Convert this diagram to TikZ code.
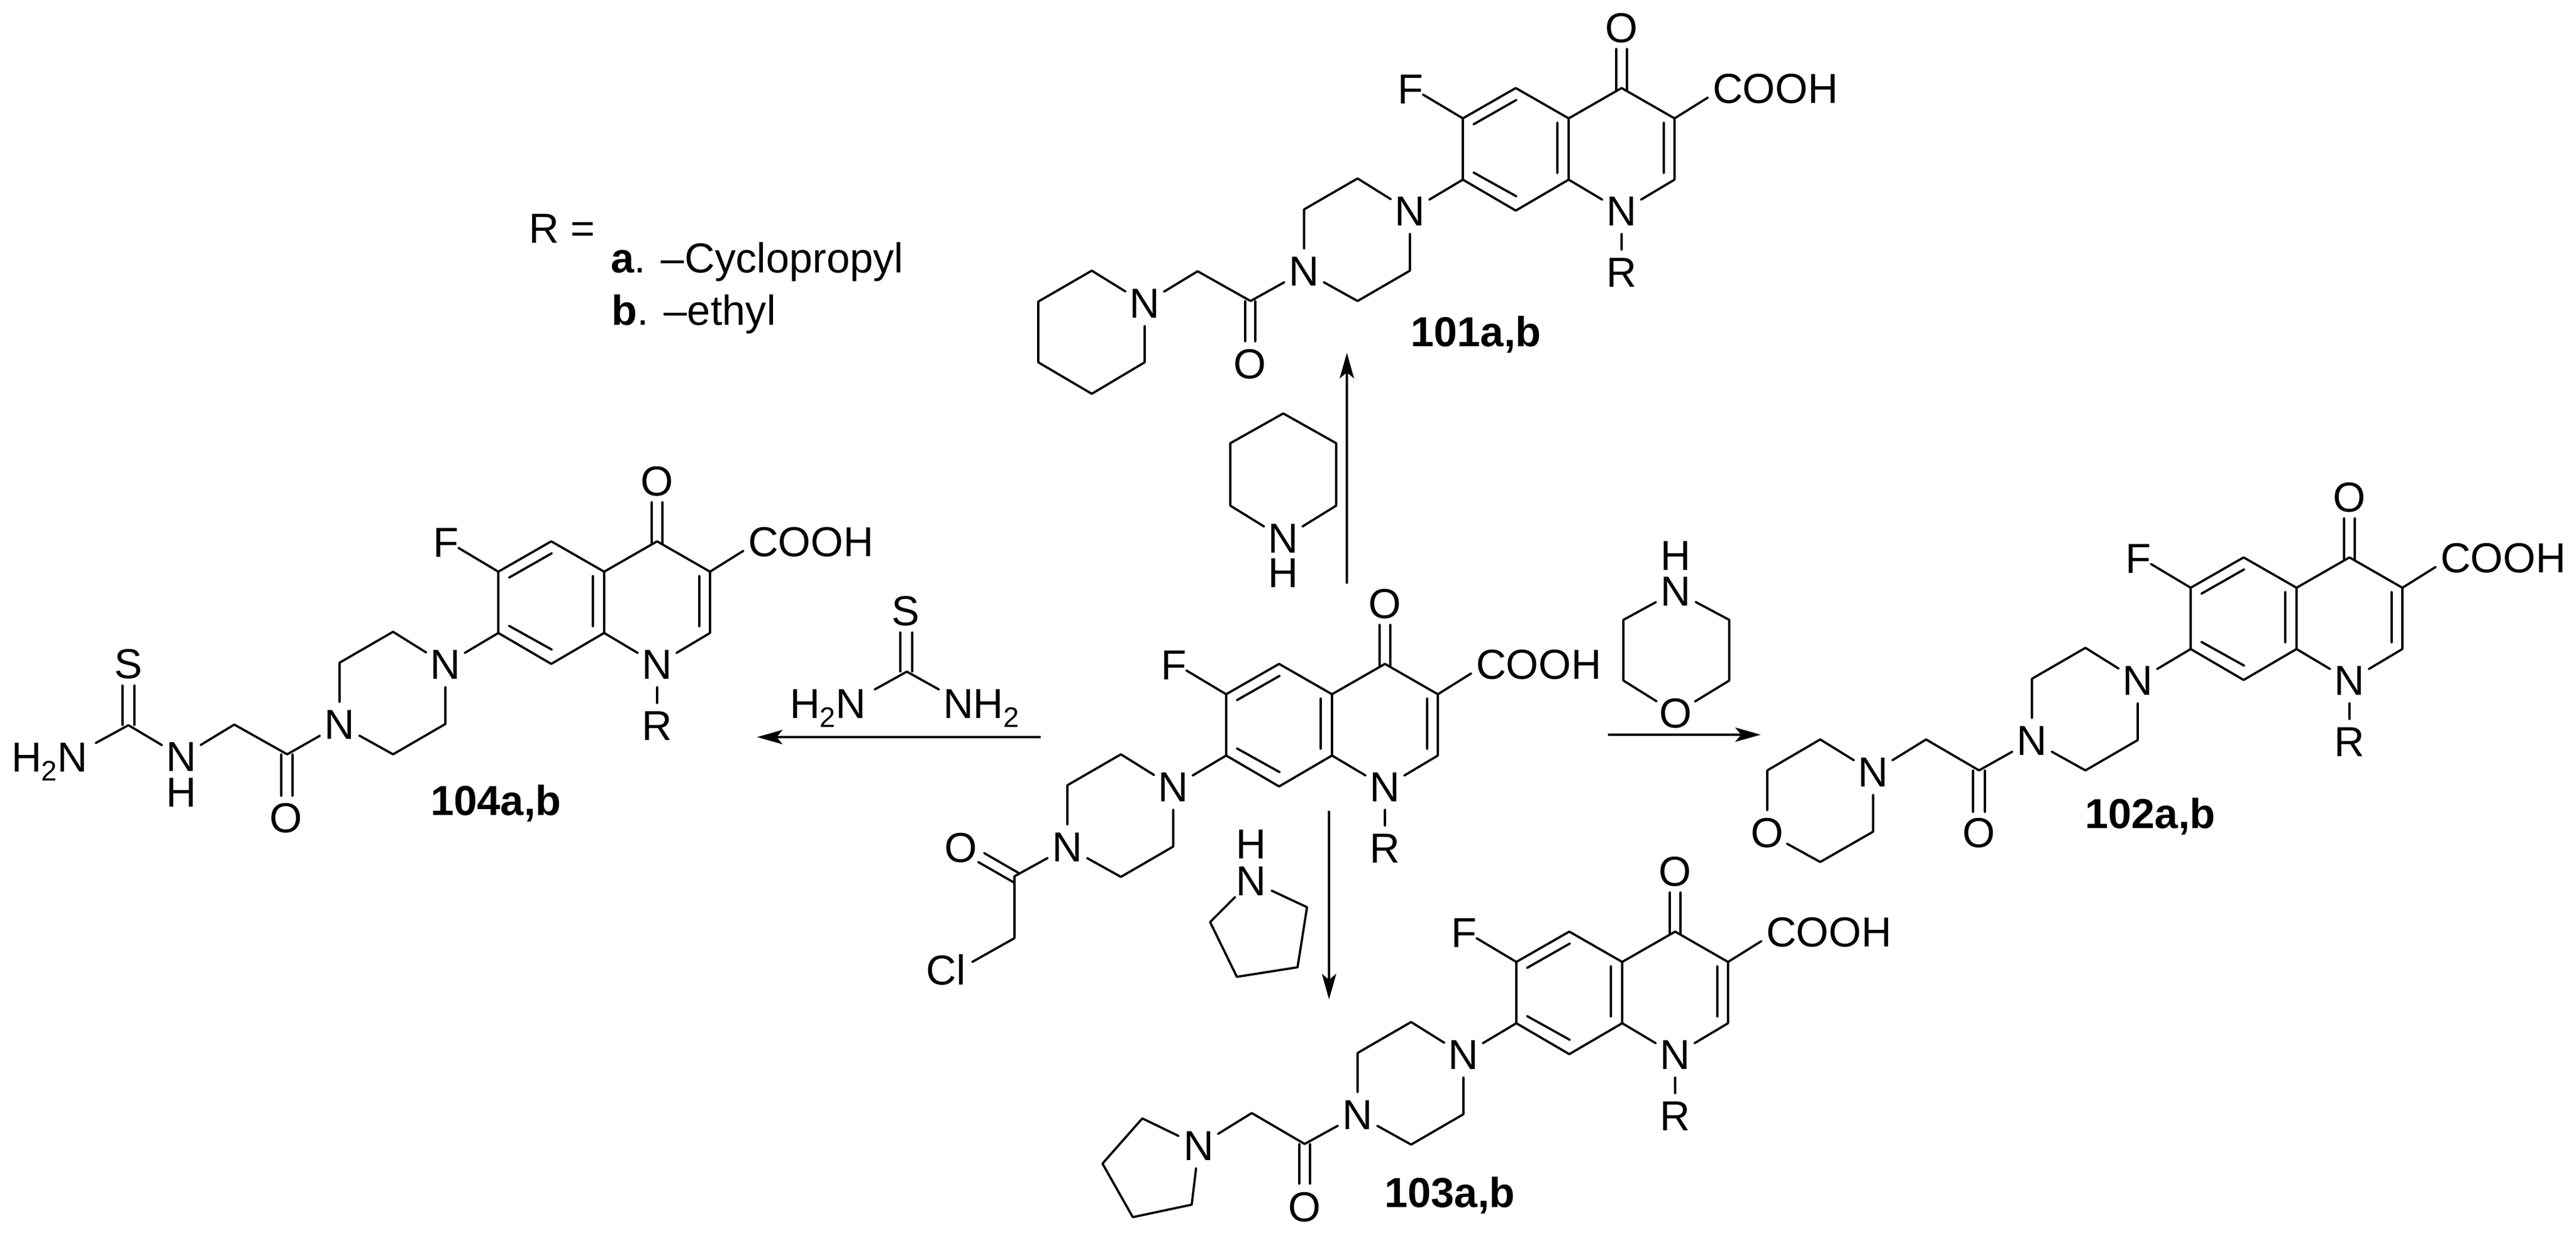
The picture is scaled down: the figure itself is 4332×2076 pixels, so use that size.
\documentclass[tikz,border=0pt]{standalone}
\usepackage{fontspec}
\setmainfont{Liberation Sans}
\usetikzlibrary{arrows.meta}
\newcommand{\subtwo}{\raisebox{-3pt}{\fontsize{9.5pt}{10pt}\selectfont 2}}
\tikzset{
  bond/.style={line width=0.75pt,line cap=round,line join=round},
  rxn/.style={line width=0.75pt,-{Stealth[length=8.6pt,width=4.8pt,inset=2pt]}},
  atom/.style={circle,inner sep=0pt,outer sep=0pt,minimum size=15.2pt,font=\fontsize{14.1pt}{16pt}\selectfont},
  lbl/.style={inner sep=0pt,outer sep=0pt,anchor=base west,font=\fontsize{14.1pt}{16pt}\selectfont},
  cmpd/.style={inner sep=0pt,outer sep=0pt,anchor=base,font=\fontsize{14.1pt}{16pt}\selectfont\bfseries}
}
% quinolone core with piperazine: prefix, x, y
\newcommand{\quincore}[3]{%
\begin{scope}[shift={(#2,#3)}]
  \coordinate (#1c4) at (0,0);
  \coordinate (#1c3) at (89,51);
  \coordinate (#1c2) at (89,154);
  \coordinate (#1c8a) at (-89,154);
  \coordinate (#1c4a) at (-89,51);
  \coordinate (#1c5) at (-178,0);
  \coordinate (#1c6) at (-267,51);
  \coordinate (#1c7) at (-267,154);
  \coordinate (#1c8) at (-178,206);
  \node[atom] (#1n1) at (0,207) {N};
  \node[atom] (#1r) at (0,310) {R};
  \node[atom] (#1o) at (0,-101) {O};
  \node[atom] (#1f) at (-355,2) {F};
  \node[lbl,anchor=west] (#1cooh) at (153,1) {COOH};
  \coordinate (#1coohb) at (145,16);
  \coordinate (#1fb) at (-334,11);
  \coordinate (#1oa) at (-9,-66);
  \coordinate (#1ob) at (9,-66);
  \coordinate (#1oc) at (-9,4);
  \coordinate (#1od) at (9,4);
  \coordinate (#1ia) at (71,58);
  \coordinate (#1ib) at (71,143);
  \coordinate (#1ic) at (-108,58);
  \coordinate (#1id) at (-108,143);
  \coordinate (#1ie) at (-249,61);
  \coordinate (#1if) at (-177,20);
  \coordinate (#1ig) at (-249,142);
  \coordinate (#1ih) at (-177,182);
  \node[atom] (#1pn) at (-356,207) {N};
  \coordinate (#1p1) at (-444,152);
  \coordinate (#1p2) at (-534,204);
  \node[atom] (#1pm) at (-534,308) {N};
  \coordinate (#1p3) at (-444,358);
  \coordinate (#1p4) at (-356,307);
  \draw[bond] (#1c4)--(#1c3) (#1c3)--(#1c2) (#1c2)--(#1n1) (#1n1)--(#1c8a) (#1c8a)--(#1c4a) (#1c4a)--(#1c4)
    (#1c4a)--(#1c5) (#1c5)--(#1c6) (#1c6)--(#1c7) (#1c7)--(#1c8) (#1c8)--(#1c8a)
    (#1oa)--(#1oc) (#1ob)--(#1od) (#1ia)--(#1ib) (#1ic)--(#1id) (#1ie)--(#1if) (#1ig)--(#1ih)
    (#1c3)--(#1coohb) (#1c6)--(#1fb) (#1n1)--(#1r) (#1c7)--(#1pn)
    (#1pn)--(#1p1) (#1p1)--(#1p2) (#1p2)--(#1pm) (#1pm)--(#1p3) (#1p3)--(#1p4) (#1p4)--(#1pn);
\end{scope}}
\begin{document}
\begin{tikzpicture}[x=0.2pt,y=-0.2pt]
\useasboundingbox (0,0) rectangle (4332,2076);
\fill[white] (0,0) rectangle (4332,2076);

% R legend
\node[lbl] (rdef) at (889,409) {R =};
\node[lbl] (ra) at (1027,459) {\textbf{a}. –Cyclopropyl};
\node[lbl] (rb) at (1028,547) {\textbf{b}. –ethyl};

% central compound
\quincore{m}{2329}{1116}
\coordinate (mcc) at (1706,1473);
\coordinate (mch) at (1706,1577);
\node[atom] (mco) at (1616,1425) {O};
\node[lbl,anchor=center] (mcl) at (1591,1630) {Cl};
\coordinate (mclb) at (1635,1617);
\coordinate (mda) at (1655,1434);
\coordinate (mdb) at (1714,1468);
\coordinate (mdc) at (1645,1449);
\coordinate (mdd) at (1706,1484);
\draw[bond] (mpm)--(mcc) (mcc)--(mdd) (mcc)--(mch) (mch)--(mclb) (mda)--(mdb) (mdc)--(mdd);

% 101
\quincore{a}{2727}{148}
\coordinate (acc) at (2103,506);
\coordinate (ach) at (2014,456);
\node[atom] (aco) at (2102,612) {O};
\coordinate (ada) at (2094,506);
\coordinate (adb) at (2094,574);
\coordinate (adc) at (2111,506);
\coordinate (add) at (2111,574);
\node[atom] (apn2) at (1925,510) {N};
\coordinate (ar1) at (1836,455);
\coordinate (ar2) at (1746,507);
\coordinate (ar3) at (1746,609);
\coordinate (ar4) at (1836,662);
\coordinate (ar5) at (1925,609);
\draw[bond] (apm)--(acc) (acc)--(ach) (ach)--(apn2) (ada)--(adb) (adc)--(add)
  (apn2)--(ar1) (ar1)--(ar2) (ar2)--(ar3) (ar3)--(ar4) (ar4)--(ar5) (ar5)--(apn2);
\node[cmpd] (al) at (2482,583) {101a,b};

% 102
\quincore{b}{3951}{937}
\coordinate (bcc) at (3328,1295);
\coordinate (bch) at (3239,1243);
\node[atom] (bco) at (3328,1400) {O};
\coordinate (bda) at (3318,1295);
\coordinate (bdb) at (3318,1365);
\coordinate (bdc) at (3338,1295);
\coordinate (bdd) at (3338,1365);
\node[atom] (bmn) at (3150,1298) {N};
\node[atom] (bmo) at (2972,1400) {O};
\coordinate (br1) at (3061,1243);
\coordinate (br2) at (2972,1295);
\coordinate (br3) at (3061,1449);
\coordinate (br4) at (3150,1398);
\draw[bond] (bpm)--(bcc) (bcc)--(bch) (bch)--(bmn) (bda)--(bdb) (bdc)--(bdd)
  (bmn)--(br1) (br1)--(br2) (br2)--(bmo) (bmo)--(br3) (br3)--(br4) (br4)--(bmn);
\node[cmpd] (bl) at (3616,1392) {102a,b};

% 103
\quincore{c}{2817}{1566}
\coordinate (ccc) at (2194,1923);
\coordinate (cch) at (2105,1871);
\node[atom] (cco) at (2194,2029) {O};
\coordinate (cda) at (2185,1923);
\coordinate (cdb) at (2185,1990);
\coordinate (cdc) at (2203,1923);
\coordinate (cdd) at (2203,1990);
\node[atom] (cpy) at (2016,1926) {N};
\coordinate (cr1) at (1921,1880);
\coordinate (cr2) at (1854,1956);
\coordinate (cr3) at (1905,2046);
\coordinate (cr4) at (2004,2025);
\draw[bond] (cpm)--(ccc) (ccc)--(cch) (cch)--(cpy) (cda)--(cdb) (cdc)--(cdd)
  (cpy)--(cr1) (cr1)--(cr2) (cr2)--(cr3) (cr3)--(cr4) (cr4)--(cpy);
\node[cmpd] (cl) at (2438,2029) {103a,b};

% 104
\quincore{d}{1105}{910}
\coordinate (dcc) at (483,1268);
\coordinate (dch) at (394,1218);
\node[atom] (dco) at (481,1375) {O};
\coordinate (dda) at (473,1268);
\coordinate (ddb) at (473,1338);
\coordinate (ddc) at (492,1268);
\coordinate (ddd) at (492,1338);
\node[atom] (dnh) at (305,1272) {N};
\node[atom] (dh) at (305,1332) {H};
\coordinate (dcs) at (216,1219);
\node[atom] (ds) at (216,1116) {S};
\coordinate (dsa) at (206,1152);
\coordinate (dsb) at (206,1219);
\coordinate (dsc) at (226,1152);
\coordinate (dsd) at (226,1219);
\node[lbl] (dnh2) at (19,1297) {H\subtwo N};
\coordinate (dnh2b) at (161,1249);
\draw[bond] (dpm)--(dcc) (dcc)--(dch) (dch)--(dnh) (dda)--(ddb) (ddc)--(ddd)
  (dnh)--(dcs) (dcs)--(dnh2b) (dsa)--(dsb) (dsc)--(dsd);
\node[cmpd] (dl) at (834,1370) {104a,b};

% piperidine reagent
\node[atom] (ppn) at (2158,905) {N};
\node[atom] (pph) at (2158,963) {H};
\coordinate (pp1) at (2247,850);
\coordinate (pp2) at (2247,745);
\coordinate (pp3) at (2158,695);
\coordinate (pp4) at (2069,745);
\coordinate (pp5) at (2069,850);
\draw[bond] (ppn)--(pp1) (pp1)--(pp2) (pp2)--(pp3) (pp3)--(pp4) (pp4)--(pp5) (pp5)--(ppn);

% morpholine reagent
\node[atom] (mon) at (2818,994) {N};
\node[atom] (moh) at (2818,934) {H};
\node[atom] (moo) at (2818,1199) {O};
\coordinate (mo1) at (2908,1042);
\coordinate (mo2) at (2908,1144);
\coordinate (mo3) at (2730,1144);
\coordinate (mo4) at (2730,1042);
\draw[bond] (mon)--(mo1) (mo1)--(mo2) (mo2)--(moo) (moo)--(mo3) (mo3)--(mo4) (mo4)--(mon);

% pyrrolidine reagent
\node[atom] (pyn) at (2104,1481) {N};
\node[atom] (pyh) at (2104,1419) {H};
\coordinate (py1) at (2198,1525);
\coordinate (py2) at (2182,1626);
\coordinate (py3) at (2080,1642);
\coordinate (py4) at (2035,1550);
\draw[bond] (pyn)--(py1) (py1)--(py2) (py2)--(py3) (py3)--(py4) (py4)--(pyn);

% thiourea reagent
\coordinate (tc) at (1525,1129);
\node[atom] (ts) at (1523,1027) {S};
\coordinate (tsa) at (1514,1063);
\coordinate (tsb) at (1514,1129);
\coordinate (tsc) at (1534,1063);
\coordinate (tsd) at (1534,1129);
\node[lbl] (tnl) at (1328,1207) {H\subtwo N};
\node[lbl] (tnr) at (1586,1207) {NH\subtwo};
\coordinate (tnlb) at (1471,1159);
\coordinate (tnrb) at (1579,1159);
\draw[bond] (tsa)--(tsb) (tsc)--(tsd) (tc)--(tnlb) (tc)--(tnrb);

% reaction arrows
\coordinate (ua) at (2265,981);
\coordinate (ub) at (2265,593);
\coordinate (ra1) at (2704,1235);
\coordinate (rb1) at (2961,1235);
\coordinate (da) at (2235,1363);
\coordinate (db) at (2235,1680);
\coordinate (la) at (1750,1239);
\coordinate (lb) at (1273,1239);
\draw[rxn] (ua)--(ub);
\draw[rxn] (ra1)--(rb1);
\draw[rxn] (da)--(db);
\draw[rxn] (la)--(lb);
\end{tikzpicture}
\end{document}
